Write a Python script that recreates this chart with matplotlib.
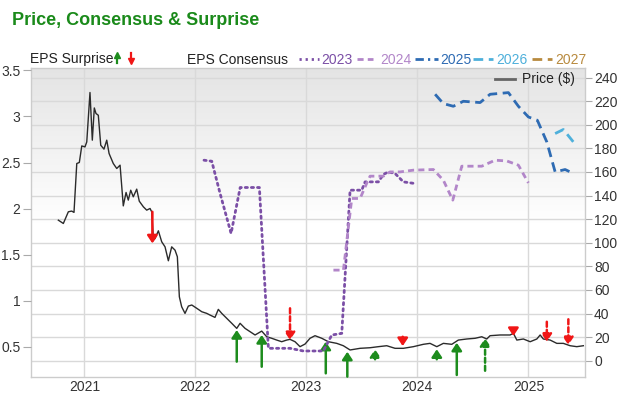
import numpy as np
import matplotlib
matplotlib.use("Agg")
import matplotlib.pyplot as plt
from matplotlib.lines import Line2D

plt.rcParams['font.family'] = ['Liberation Sans', 'DejaVu Sans']

# ---------------- data ----------------
price_t = [2020.766, 2020.811, 2020.856, 2020.886, 2020.907, 2020.932, 2020.955, 2020.977, 2021.006, 2021.022,
           2021.051, 2021.072, 2021.090, 2021.105, 2021.126, 2021.148, 2021.177, 2021.202, 2021.223, 2021.261,
           2021.292, 2021.322, 2021.351, 2021.376, 2021.396, 2021.418, 2021.441, 2021.472, 2021.495, 2021.532,
           2021.562, 2021.592, 2021.607, 2021.623, 2021.637, 2021.667, 2021.697, 2021.727, 2021.757, 2021.787,
           2021.817, 2021.838, 2021.856, 2021.877, 2021.907, 2021.937, 2021.968, 2022.013, 2022.058, 2022.103,
           2022.132, 2022.177, 2022.207, 2022.238, 2022.283, 2022.328, 2022.373, 2022.403, 2022.448, 2022.493,
           2022.538, 2022.598, 2022.643, 2022.688, 2022.733, 2022.778, 2022.823, 2022.853, 2022.898, 2022.943,
           2022.988, 2023.033, 2023.078, 2023.139, 2023.198, 2023.274, 2023.333, 2023.394, 2023.484, 2023.574,
           2023.649, 2023.724, 2023.799, 2023.874, 2023.964, 2024.054, 2024.114, 2024.175, 2024.234, 2024.310,
           2024.369, 2024.445, 2024.520, 2024.580, 2024.625, 2024.655, 2024.745, 2024.835, 2024.865, 2024.896,
           2024.955, 2025.016, 2025.076, 2025.106, 2025.135, 2025.196, 2025.256, 2025.315, 2025.376, 2025.436,
           2025.495]
price_v = [119.1, 116.3, 126.2, 126.8, 125.7, 167.1, 168.0, 182.0, 181.2, 185.4,
           227.3, 186.9, 214.2, 209.5, 208.0, 182.6, 179.3, 186.9, 175.6, 167.1,
           162.9, 165.7, 131.2, 142.6, 136.1, 144.5, 138.9, 145.4, 135.2, 130.4,
           127.6, 129.0, 126.2, 102.2, 103.6, 110.1, 100.8, 96.5, 84.7, 96.5,
           93.7, 88.1, 54.2, 45.7, 40.1, 46.3, 47.2, 44.4, 41.5, 40.1,
           38.7, 36.7, 43.5, 40.1, 35.9, 31.7, 27.4, 31.7, 27.4, 24.6,
           21.8, 25.1, 20.3, 19.0, 17.5, 16.1, 17.5, 18.1, 16.1, 11.9,
           14.1, 19.0, 21.2, 19.0, 16.1, 14.7, 12.7, 9.1, 10.5, 11.0,
           11.9, 12.7, 10.5, 10.5, 11.9, 13.9, 14.7, 11.9, 14.7, 13.9,
           17.5, 18.4, 19.0, 20.3, 18.4, 21.2, 21.8, 21.8, 23.2, 17.5,
           18.4, 16.1, 18.4, 21.8, 18.4, 17.5, 14.7, 14.7, 12.7, 11.9,
           12.7]

# EPS surprise arrows (drawn in price units)
surp_t = [2021.613, 2022.373, 2022.598, 2022.853, 2023.175, 2023.369, 2023.619,
          2023.868, 2024.175, 2024.355, 2024.610, 2024.865, 2025.166, 2025.360]
surp_from = [126.2, -0.8, -5.1, 44.4, -10.7, -13.5, 1.2, 20.3, 1.2, -12.1, -8.5, 27.4, 33.0, 35.1]
surp_to = [99.4, 26.0, 21.8, 17.5, 16.1, 7.6, 9.7, 12.4, 9.7, 15.2, 19.0, 20.9, 16.1, 13.3]
surp_dashed = [False, False, False, True, False, False, True, False, False, False, True, False, True, True]

# EPS consensus by fiscal year
c2023_t = [2022.078, 2022.148, 2022.223, 2022.322, 2022.404, 2022.577, 2022.658, 2022.853, 2022.973, 2023.153,
           2023.229, 2023.319, 2023.394, 2023.499, 2023.529, 2023.649, 2023.694, 2023.739, 2023.799, 2023.874,
           2023.979]
c2023_v = [2.525, 2.514, 2.164, 1.731, 2.229, 2.229, 0.485, 0.485, 0.456, 0.456,
           0.629, 0.647, 2.200, 2.200, 2.290, 2.290, 2.371, 2.398, 2.381, 2.290,
           2.272]
c2024_t = [2023.244, 2023.334, 2023.409, 2023.484, 2023.544, 2023.574, 2023.694, 2023.754, 2023.844, 2023.964,
           2024.144, 2024.234, 2024.319, 2024.400, 2024.580, 2024.700, 2024.805, 2024.910, 2025.000]
c2024_v = [1.333, 1.333, 2.110, 2.110, 2.276, 2.352, 2.352, 2.398, 2.398, 2.417,
           2.424, 2.308, 2.092, 2.460, 2.460, 2.525, 2.517, 2.471, 2.279]
c2025_t = [2024.160, 2024.234, 2024.324, 2024.414, 2024.565, 2024.655, 2024.820, 2024.910, 2025.000, 2025.081,
           2025.166, 2025.241, 2025.331, 2025.405]
c2025_v = [3.240, 3.139, 3.110, 3.164, 3.150, 3.240, 3.258, 3.110, 2.994, 2.958,
           2.723, 2.398, 2.424, 2.381]
c2026_t = [2025.241, 2025.315, 2025.405]
c2026_v = [2.814, 2.858, 2.723]
c2027_t = []
c2027_v = []

year_ticks = [2021, 2022, 2023, 2024, 2025]
price_ticks = [0, 20, 40, 60, 80, 100, 120, 140, 160, 180, 200, 220, 240]
eps_ticks = [0.5, 1.0, 1.5, 2.0, 2.5, 3.0, 3.5]
eps_tick_labels = ["0.5", "1", "1.5", "2", "2.5", "3", "3.5"]

# ---------------- style ----------------
COL = {'2023': '#7b4fa6', '2024': '#b286c9', '2025': '#2e6bb3', '2026': '#4eb0db', '2027': '#b88a3e'}
GREEN = '#1d8c1d'
RED = '#f01616'
W, H = 620, 399

fig = plt.figure(figsize=(W / 100, H / 100), dpi=100, facecolor='white')
L, R, T, B = 30.7, 585.0, 68.3, 376.7
ax = fig.add_axes([L / W, 1 - B / H, (R - L) / W, (B - T) / H])
ax2 = ax.twinx()

# gradient background
frac = np.linspace(0, 1, 256)
tt = np.clip((frac - 0.5) / 0.5, 0, 1)
g = 1 - tt * (1 - 0.895)
img = np.dstack([g, g, g]).reshape(256, 1, 3)
ax.imshow(img, origin='lower', extent=[0, 1, 0, 1], transform=ax.transAxes,
          aspect='auto', zorder=0, interpolation='bilinear')
ax.set_xlim(2020.517, 2025.51)
ax.set_ylim(-13.55, 247.8)

ax.set_xticks(year_ticks)
ax.set_xticklabels([str(y) for y in year_ticks])
ax.set_yticks(price_ticks)
ax.grid(True, color='#d9d9d9', linewidth=1.0, zorder=1)
ax.set_axisbelow(True)
ax.tick_params(axis='x', length=0, pad=2.5, labelsize=10, labelcolor='#333333')
for s in ax.spines.values():
    s.set_color('#cccccc')
    s.set_linewidth(1.0)

# price line
ax.plot(price_t, price_v, color='#2b2b2b', linewidth=1.0, zorder=3)

# surprise arrows
for t0, f0, t1, d in zip(surp_t, surp_from, surp_to, surp_dashed):
    c = GREEN if t1 > f0 else RED
    ax.annotate('', xy=(t0, t1), xytext=(t0, f0), xycoords='data',
                arrowprops=dict(arrowstyle='-|>,head_length=0.45,head_width=0.3',
                                color=c, lw=1.8, shrinkA=0, shrinkB=0,
                                mutation_scale=10,
                                linestyle=(0, (2.0, 1.2)) if d else '-'),
                zorder=4, annotation_clip=False)

# EPS consensus axis (left)
ax2.set_ylim(0.1771, 3.5217)
ax2.set_yticks(eps_ticks)
ax2.set_yticklabels(eps_tick_labels)
for s in ax2.spines.values():
    s.set_visible(False)
ax2.patch.set_visible(False)

# put ticks on the proper sides (twinx flips them)
ax.yaxis.tick_right()
ax2.yaxis.tick_left()
ax.tick_params(axis='y', which='both', left=False, labelleft=False, right=True, labelright=True,
               length=5, width=0.8, color='#aaaaaa', pad=1.5, labelsize=10, labelcolor='#333333')
ax2.tick_params(axis='y', which='both', right=False, labelright=False, left=True, labelleft=True,
                length=6, width=0.8, color='#aaaaaa', pad=1.5, labelsize=10, labelcolor='#333333')

ax2.plot(c2023_t, c2023_v, color=COL['2023'], lw=2.0, linestyle=(0, (0.8, 1.4)),
         dash_capstyle='round')
ax2.plot(c2024_t, c2024_v, color=COL['2024'], lw=2.0, linestyle=(0, (2.2, 1.5)))
ax2.plot(c2025_t, c2025_v, color=COL['2025'], lw=2.0, linestyle=(0, (3.5, 2.0)))
ax2.plot(c2026_t, c2026_v, color=COL['2026'], lw=2.0, linestyle=(0, (3.5, 2.0)))
if c2027_t:
    ax2.plot(c2027_t, c2027_v, color=COL['2027'], lw=2.0, linestyle=(0, (3.5, 2.0)))


# ---------------- title & legends (figure pixel coords) ----------------
def fx(x):
    return x / W


def fy(y):
    return 1 - y / H


fig.text(fx(12), fy(25), "Price, Consensus & Surprise", color='#1a8a1a',
         fontsize=13, fontweight='bold', va='baseline', ha='left')

LY = 58.5
fig.text(fx(30), fy(63.5), "EPS Surprise", fontsize=10, color='#222222', va='baseline')
# small arrows in legend
fig.add_artist(Line2D([fx(117.3), fx(117.3)], [fy(63), fy(56)], color=GREEN, lw=1.6,
                      transform=fig.transFigure))
fig.add_artist(Line2D([fx(117.3)], [fy(55)], marker='^', markersize=5, color=GREEN,
                      transform=fig.transFigure, linestyle='none'))
fig.add_artist(Line2D([fx(131), fx(131)], [fy(53), fy(60)], color=RED, lw=1.6,
                      transform=fig.transFigure))
fig.add_artist(Line2D([fx(131)], [fy(61)], marker='v', markersize=5, color=RED,
                      transform=fig.transFigure, linestyle='none'))

fig.text(fx(186.7), fy(63.5), "EPS Consensus", fontsize=10, color='#222222', va='baseline')

legend_items = [
    ('2023', 298.5, 318.5, 321.5, (0, (0.8, 1.4))),
    ('2024', 356.5, 373.0, 380.0, (0, (2.2, 1.5))),
    ('2025', 415.0, 438.0, 440.0, (0, (3.0, 1.5, 0.8, 1.5))),
    ('2026', 473.0, 493.0, 496.0, (0, (3.5, 2.0))),
    ('2027', 532.0, 552.0, 555.0, (0, (3.5, 2.0))),
]
for lab, x0, x1, xt, ls in legend_items:
    fig.add_artist(Line2D([fx(x0), fx(x1)], [fy(LY), fy(LY)], color=COL[lab], lw=2.0,
                          linestyle=ls, transform=fig.transFigure))
    fig.text(fx(xt), fy(63.5), lab, fontsize=10, color=COL[lab], va='baseline')

# price legend inside plot
fig.add_artist(Line2D([fx(495), fx(515)], [fy(79.3), fy(79.3)], color='#666666', lw=2.0,
                      transform=fig.transFigure))
fig.text(fx(521.7), fy(79.3), "Price ($)", fontsize=10, color='#222222', va='center')

fig.savefig('out.png', dpi=100, facecolor='white')
